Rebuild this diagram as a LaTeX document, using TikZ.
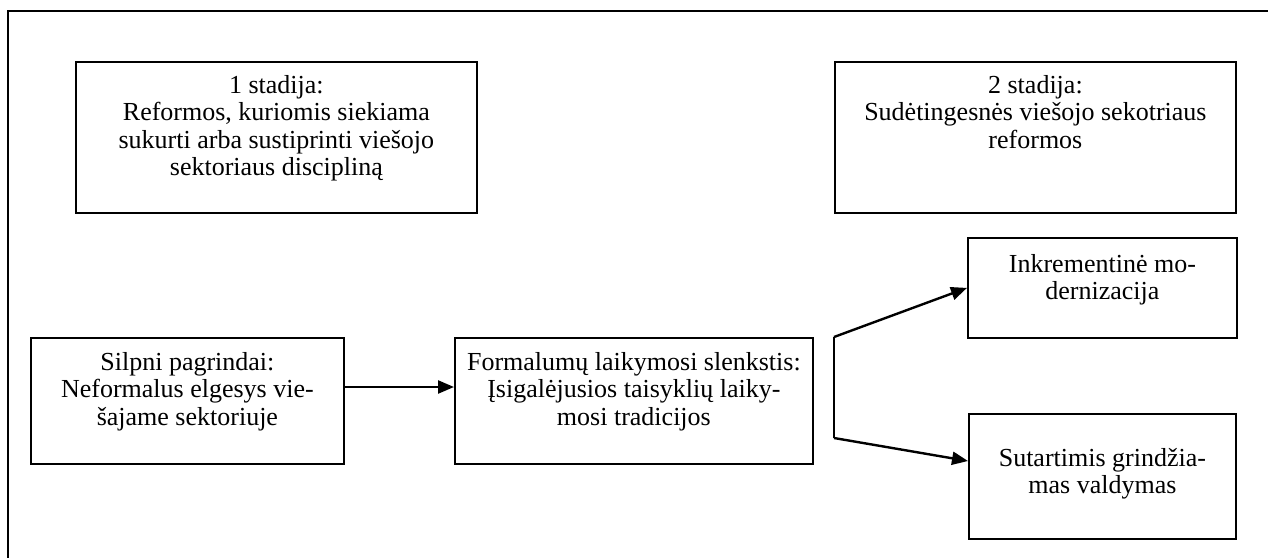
\documentclass[tikz,border=0pt]{standalone}
\usepackage{fontspec}
\setmainfont{Liberation Serif}
\usetikzlibrary{arrows.meta,calc}
\begin{document}
\begin{tikzpicture}[x=1pt,y=-1pt,
  box/.style={draw,line width=1.8pt,inner sep=0pt,anchor=north west,rectangle},
  txt/.style={inner sep=0pt,anchor=north,align=center,font=\fontsize{26}{27.5}\selectfont},
  arr/.style={line width=2.4pt,-{Triangle[length=16pt,width=13pt]}},
  ln/.style={line width=2.4pt}]
\useasboundingbox (0,0) rectangle (1268,557);
\draw[line width=1.8pt] (8,580) -- (8,11) -- (1290,11);
% boxes
\node[box,minimum width=401pt,minimum height=151pt] (b1) at (75,61) {};
\node[box,minimum width=401pt,minimum height=151pt] (b2) at (834,61) {};
\node[box,minimum width=313pt,minimum height=126pt] (b3) at (30,337) {};
\node[box,minimum width=358pt,minimum height=126pt] (b4) at (454,337) {};
\node[box,minimum width=269pt,minimum height=100pt] (b5) at (967,237) {};
\node[box,minimum width=267pt,minimum height=125pt] (b6) at (968,413) {};
% texts
\node[txt] (t1) at ($(b1.north)+(0,13)$) {\strut 1 stadija:\\\strut Reformos, kuriomis siekiama\\\strut sukurti arba sustiprinti viešojo\\\strut sektoriaus discipliną};
\node[txt] (t2) at ($(b2.north)+(0,13)$) {\strut 2 stadija:\\\strut Sudėtingesnės viešojo sekotriaus\\\strut reformos};
\node[txt] (t3) at ($(b3.north)+(0,14)$) {\strut Silpni pagrindai:\\\strut Neformalus elgesys vie-\\\strut šajame sektoriuje};
\node[txt] (t4) at ($(b4.north)+(0,14)$) {\strut Formalumų laikymosi slenkstis:\\\strut Įsigalėjusios taisyklių laiky-\\\strut mosi tradicijos};
\node[txt] (t5) at ($(b5.north)+(0,16)$) {\strut Inkrementinė mo-\\\strut dernizacija};
\node[txt] (t6) at ($(b6.north)+(0,34)$) {\strut Sutartimis grindžia-\\\strut mas valdymas};
% connectors
\coordinate (a1) at ($(b3.north east)+(0,50)$);
\draw[arr] (a1) -- (a1 -| b4.west);
\coordinate (f1) at (834,337);
\coordinate (f2) at (834,438);
\coordinate (e2) at (968,461);
\draw[ln] (f1) -- (f2);
\draw[arr] (f1) -- (b5.west);
\draw[arr] (f2) -- (e2);
\end{tikzpicture}
\end{document}
